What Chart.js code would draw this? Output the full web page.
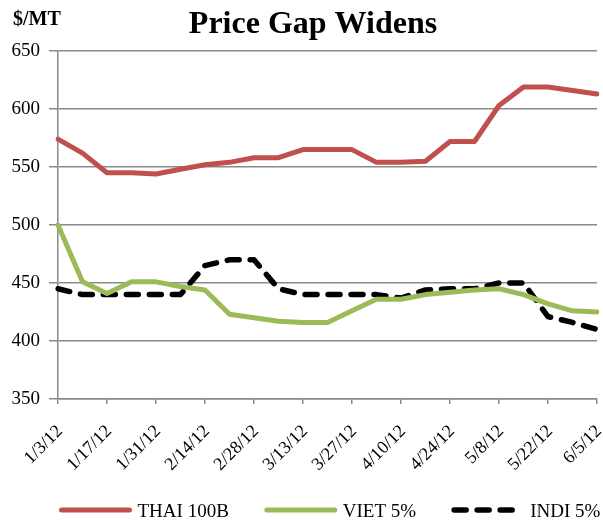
<!DOCTYPE html>
<html lang="en">
<head>
  <meta charset="UTF-8">
  <title>Price Gap Widens</title>
  <script src="https://cdn.jsdelivr.net/npm/chart.js"></script>
  <style>
    body { margin: 0; background: #fff; }
  </style>
</head>
<body>
  <canvas id="grafico" width="603" height="520"></canvas>
<script>
  // weekly quotes, $/MT
  const datas = ['1/3/12', '1/10/12', '1/17/12', '1/24/12', '1/31/12', '2/7/12', '2/14/12', '2/21/12',
    '2/28/12', '3/6/12', '3/13/12', '3/20/12', '3/27/12', '4/3/12', '4/10/12', '4/17/12', '4/24/12',
    '5/1/12', '5/8/12', '5/15/12', '5/22/12', '5/29/12', '6/5/12'];
  const thai = [574, 562, 545, 545, 544, 548, 552, 554, 558, 558, 565, 565, 565, 554, 554, 555, 572, 572, 603, 619, 619, 616, 613];
  const viet = [500, 451, 441, 451, 451, 447, 444, 423, 420, 417, 416, 416, 426, 436, 436, 440, 442, 444, 445, 440, 432, 426, 425];
  const indi = [445, 440, 440, 440, 440, 440, 465, 470, 470, 445, 440, 440, 440, 440, 437, 444, 445, 445, 450, 450, 421, 416, 410];
  const nomes = ['THAI 100B', 'VIET 5%', 'INDI 5%'];
  const titulo = 'Price Gap Widens';
  const unidade = '$/MT';

  const fonte = 'Liberation Serif';
  const cinza = '#8a8a8a';

  // title, unit label and the legend row, drawn at fixed spots like the original
  const textos = {
    id: 'textos',
    afterDraw(chart) {
      const ctx = chart.ctx;
      ctx.save();
      ctx.fillStyle = '#000';
      ctx.textBaseline = 'alphabetic';
      ctx.font = 'bold 32px "' + fonte + '"';
      ctx.textAlign = 'center';
      ctx.fillText(titulo, 313, 33);
      ctx.font = 'bold 20px "' + fonte + '"';
      ctx.textAlign = 'left';
      ctx.fillText(unidade, 13, 25);

      // legenda
      ctx.font = '19px "' + fonte + '"';
      let x = 61.5;
      chart.data.datasets.forEach(function (ds) {
        ctx.beginPath();
        ctx.strokeStyle = ds.borderColor;
        ctx.lineWidth = ds.borderWidth;
        ctx.lineCap = 'round';
        ctx.setLineDash(ds.borderDash || []);
        ctx.moveTo(x, 510);
        ctx.lineTo(x + 68, 510);
        ctx.stroke();
        ctx.setLineDash([]);
        ctx.fillText(ds.label, x + 76, 516.5);
        x += 76 + ctx.measureText(ds.label).width + 38;
      });
      ctx.restore();
    }
  };

  const ctx = document.getElementById('grafico').getContext('2d');
  new Chart(ctx, {
    type: 'line',
    data: {
      labels: datas,
      datasets: [{
        label: nomes[0],
        data: thai,
        borderColor: '#C0504D',
        borderWidth: 5,
        pointRadius: 0,
        tension: 0,
        borderCapStyle: 'round',
        borderJoinStyle: 'round'
      }, {
        label: nomes[1],
        data: viet,
        borderColor: '#9BBB59',
        borderWidth: 5,
        pointRadius: 0,
        tension: 0,
        borderCapStyle: 'round',
        borderJoinStyle: 'round'
      }, {
        label: nomes[2],
        data: indi,
        borderColor: '#000',
        borderWidth: 5.5,
        borderDash: [12, 11],
        pointRadius: 0,
        tension: 0,
        borderCapStyle: 'round',
        borderJoinStyle: 'round'
      }]
    },
    options: {
      responsive: false,
      animation: false,
      layout: { padding: { left: 0, right: 6, top: 51, bottom: 0 } },
      plugins: {
        title: { display: false },
        tooltip: { enabled: false },
        legend: { display: false }
      },
      scales: {
        x: {
          afterFit: function (s) {
            s.height = 121;
            s.paddingLeft = 0;
            s.paddingRight = 0;
          },
          grid: { drawOnChartArea: false, drawTicks: true, tickLength: 5, color: cinza, lineWidth: 1.5 },
          border: { color: cinza, width: 1.5 },
          ticks: {
            autoSkip: false,
            maxRotation: 45,
            minRotation: 45,
            padding: 17,
            labelOffset: 2,
            color: '#000',
            font: { family: fonte, size: 18 },
            callback: function (v, i) { return i % 2 === 0 ? this.getLabelForValue(v) : null; }
          }
        },
        y: {
          min: 350,
          max: 650,
          afterFit: function (s) { s.width = 58; },
          grid: { color: cinza, lineWidth: 1.5, tickLength: 9 },
          border: { color: cinza, width: 1.5 },
          ticks: {
            stepSize: 50,
            padding: 9,
            color: '#000',
            font: { family: fonte, size: 19 }
          }
        }
      }
    },
    plugins: [textos]
  });
</script>
</body>
</html>
